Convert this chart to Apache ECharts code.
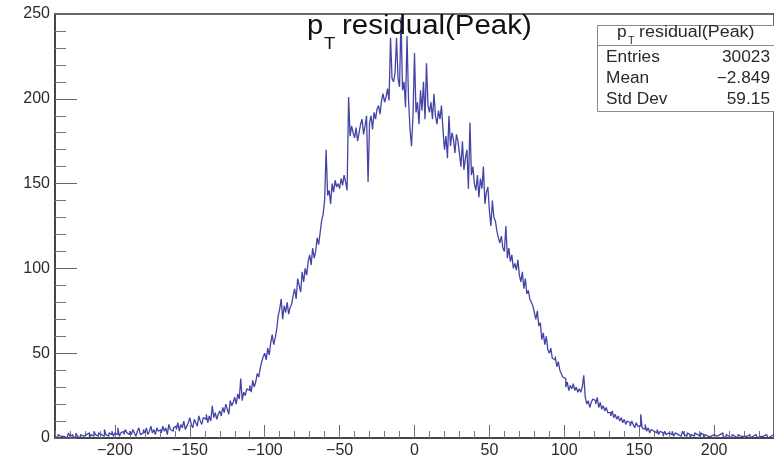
<!DOCTYPE html>
<html>
<head>
<meta charset="utf-8">
<title>pT residual(Peak)</title>
<script src="https://cdn.jsdelivr.net/npm/echarts@6/dist/echarts.min.js"></script>
<style>
  html, body { margin: 0; padding: 0; background: #fff; }
  #chart { width: 774px; height: 459px; }
</style>
</head>
<body>
<div id="chart"></div>
<script>
// Histogram binning: 480 bins of width 1 from -240 to 240
const binLow = -240;
const binHigh = 240;
const binWidth = 1;

// Bin contents, ten bins per row, starting at -240
const counts = [
  1, 0, 2, 1, 0, 1, 2, 0, 1, 3,          // -240
  1, 2, 0, 1, 3, 1, 0, 2, 1, 2,          // -230
  2, 1, 3, 0, 2, 1, 4, 2, 1, 3,          // -220
  2, 3, 1, 5, 2, 1, 3, 2, 4, 1,          // -210
  3, 2, 6, 1, 3, 4, 2, 5, 3, 2,          // -200
  4, 2, 5, 3, 1, 4, 6, 2, 3, 5,          // -190
  3, 6, 2, 4, 7, 3, 5, 2, 6, 4,          // -180
  5, 3, 7, 4, 6, 2, 8, 5, 4, 6,          // -170
  7, 5, 9, 4, 8, 6, 10, 5, 7, 9,         // -160
  12, 8, 6, 11, 9, 7, 13, 10, 8, 12,     // -150
  11, 14, 9, 13, 10, 19, 12, 15, 11, 14, // -140
  16, 13, 18, 15, 20, 17, 14, 22, 19, 21,// -130
  24, 20, 26, 23, 35, 22, 27, 25, 29, 28,// -120
  31, 27, 34, 30, 33, 38, 36, 41, 45, 48,// -110
  50, 46, 53, 49, 56, 61, 55, 59, 64, 72,// -100
  76, 82, 70, 78, 74, 80, 73, 77, 79, 84,// -90
  88, 82, 94, 90, 86, 98, 92, 100, 96, 104,      // -80
  108, 102, 112, 106, 110, 118, 114, 121, 128, 132, // -70
  140, 170, 143, 146, 138, 150, 145, 152, 148, 150, // -60
  147, 153, 149, 155, 151, 146, 201, 178, 184, 180, // -50
  177, 183, 175, 180, 185, 188, 179, 184, 190, 151, // -40
  186, 190, 182, 192, 188, 194, 196, 191, 199, 203, // -30
  198, 201, 206, 199, 236, 212, 210, 215, 236, 212, // -20
  207, 248, 205, 210, 195, 237, 200, 182, 172, 190, // -10
  227, 192, 198, 185, 205, 193, 210, 188, 221, 196, // 0
  192, 198, 188, 203, 190, 185, 193, 188, 196, 182, // 10
  170, 178, 165, 190, 172, 180, 176, 168, 179, 175, // 20
  168, 160, 175, 158, 165, 170, 147, 186, 155, 160, // 30
  150, 146, 155, 142, 153, 147, 160, 138, 145, 148, // 40
  134, 125, 140, 130, 128, 122, 118, 115, 119, 112, // 50
  110, 125, 106, 112, 104, 108, 100, 103, 99, 105,  // 60
  96, 92, 98, 88, 94, 85, 87, 82, 80, 78,           // 70
  74, 70, 75, 66, 68, 58, 62, 55, 60, 52,           // 80
  50, 53, 47, 46, 48, 42, 45, 40, 38, 36,           // 90
  35, 30, 33, 28, 31, 29, 32, 28, 30, 27,           // 100
  29, 27, 30, 37, 24, 20, 22, 18, 21, 23,           // 110
  22, 20, 24, 18, 21, 17, 19, 16, 18, 15,           // 120
  15, 13, 16, 12, 14, 11, 13, 10, 12, 9,            // 130
  11, 8, 10, 9, 7, 10, 8, 6, 9, 7,                  // 140
  7, 14, 6, 5, 8, 4, 6, 3, 5, 4,                    // 150
  4, 3, 5, 2, 4, 3, 1, 4, 2, 3,                     // 160
  3, 2, 4, 1, 3, 2, 3, 1, 2, 4,                     // 170
  2, 1, 3, 2, 0, 2, 1, 3, 2, 1,                     // 180
  1, 3, 2, 0, 2, 1, 2, 1, 0, 2,                     // 190
  2, 1, 0, 2, 1, 3, 1, 0, 2, 1,                     // 200
  1, 0, 2, 1, 1, 0, 2, 1, 0, 1,                     // 210
  0, 1, 1, 2, 0, 1, 0, 2, 1, 0,                     // 220
  1, 0, 1, 0, 2, 1, 0, 1, 1, 2                      // 230
];

// Axis tick values
const xMajorTicks = [-200, -150, -100, -50, 0, 50, 100, 150, 200];
const yTicks = [0, 50, 100, 150, 200, 250];

// Statistics box
const statsTitle = 'residual(Peak)';
const statsNames = ['Entries', 'Mean', 'Std Dev'];
const statsValues = ['30023', '\u22122.849', '59.15'];

const lineColor = '#4444a6';
const frameColor = '#3a3a3a';
const textColor = '#2a2a2a';
const font = '"Liberation Sans", Arial, Helvetica, sans-serif';

// Outline of the histogram: one point per bin left edge, plus the closing edge
const stepData = counts.map((c, i) => [binLow + i * binWidth, c]);
stepData.push([binHigh, counts[counts.length - 1]]);

const fmtNum = v => (v < 0 ? '\u2212' + Math.abs(v) : String(v));

const chart = echarts.init(document.getElementById('chart'), null, { renderer: 'canvas' });

const gridLeft = 55, gridTop = 14, gridBottom = 18, gridRight = -9;

// Stats box geometry
const boxX = 597, boxY = 25, boxW = 200, boxH = 86, boxSep = 45;
const rowY = [58, 79, 100];

const graphics = [
  // title: p_T residual(Peak)
  { type: 'text', x: 307, y: 27, scaleX: 1.08, z: 10,
    style: { text: 'p', font: '27px ' + font, fill: '#111', verticalAlign: 'middle' } },
  { type: 'text', x: 324, y: 44, scaleX: 1.08, z: 10,
    style: { text: 'T', font: '17px ' + font, fill: '#111', verticalAlign: 'middle' } },
  { type: 'text', x: 342, y: 27, scaleX: 1.09, z: 10,
    style: { text: 'residual(Peak)', font: '27px ' + font, fill: '#111', verticalAlign: 'middle' } },
  // stats box frame
  { type: 'rect', z: 20, shape: { x: boxX + 0.5, y: boxY + 0.5, width: boxW, height: boxH },
    style: { fill: '#fff', stroke: '#8a8a8a', lineWidth: 1 } },
  { type: 'line', z: 21, shape: { x1: boxX, y1: boxSep + 0.5, x2: boxX + boxW, y2: boxSep + 0.5 },
    style: { stroke: '#8a8a8a', lineWidth: 1 } },
  { type: 'text', z: 22, x: 617, y: 33, scaleX: 1.08,
    style: { text: 'p', font: '16px ' + font, fill: textColor, verticalAlign: 'middle' } },
  { type: 'text', z: 22, x: 628, y: 41, scaleX: 1.08,
    style: { text: 'T', font: '10px ' + font, fill: textColor, verticalAlign: 'middle' } },
  { type: 'text', z: 22, x: 639, y: 33, scaleX: 1.12,
    style: { text: statsTitle, font: '16px ' + font, fill: textColor, verticalAlign: 'middle' } }
];
statsNames.forEach((name, i) => {
  graphics.push({ type: 'text', z: 22, x: 606, y: rowY[i], scaleX: 1.08,
    style: { text: name, font: '16px ' + font, fill: textColor, verticalAlign: 'middle' } });
  graphics.push({ type: 'text', z: 22, x: 770, y: rowY[i], scaleX: 1.08,
    style: { text: statsValues[i], font: '16px ' + font, fill: textColor,
             align: 'right', verticalAlign: 'middle' } });
});

const option = {
  animation: false,
  backgroundColor: '#fff',
  grid: {
    left: gridLeft, top: gridTop, right: gridRight, bottom: gridBottom,
    show: true, borderColor: frameColor, borderWidth: 1.5, backgroundColor: 'transparent'
  },
  xAxis: [
    {
      // major ticks and labels
      type: 'value', min: binLow, max: binHigh, gridIndex: 0, position: 'bottom',
      axisLine: { show: true, onZero: false, lineStyle: { color: frameColor, width: 1.5 } },
      axisTick: { show: true, inside: true, length: 13, customValues: xMajorTicks,
                  lineStyle: { color: '#666', width: 1 } },
      axisLabel: { show: true, customValues: xMajorTicks, formatter: fmtNum, margin: 5,
                   color: textColor, fontFamily: font, fontSize: 16 },
      splitLine: { show: false }
    },
    {
      // minor ticks every 10
      type: 'value', min: binLow, max: binHigh, interval: 10, gridIndex: 0, position: 'bottom',
      axisLine: { show: false, onZero: false },
      axisTick: { show: true, inside: true, length: 7, lineStyle: { color: '#777', width: 1 } },
      axisLabel: { show: false },
      splitLine: { show: false }
    }
  ],
  yAxis: {
    type: 'value', min: yTicks[0], max: yTicks[yTicks.length - 1], interval: 50,
    axisLine: { show: true, onZero: false, lineStyle: { color: frameColor, width: 1.5 } },
    axisTick: { show: true, inside: true, length: 22, lineStyle: { color: '#666', width: 1 } },
    minorTick: { show: true, splitNumber: 5, length: 11, lineStyle: { color: '#777', width: 1 } },
    axisLabel: { show: true, margin: 5, color: textColor, fontFamily: font, fontSize: 16 },
    splitLine: { show: false }
  },
  series: [{
    type: 'line',
    xAxisIndex: 0,
    data: stepData,
    step: 'end',
    showSymbol: false,
    symbol: 'none',
    lineStyle: { color: lineColor, width: 1.3 },
    z: 5
  }],
  graphic: graphics
};

chart.setOption(option);
</script>
</body>
</html>
